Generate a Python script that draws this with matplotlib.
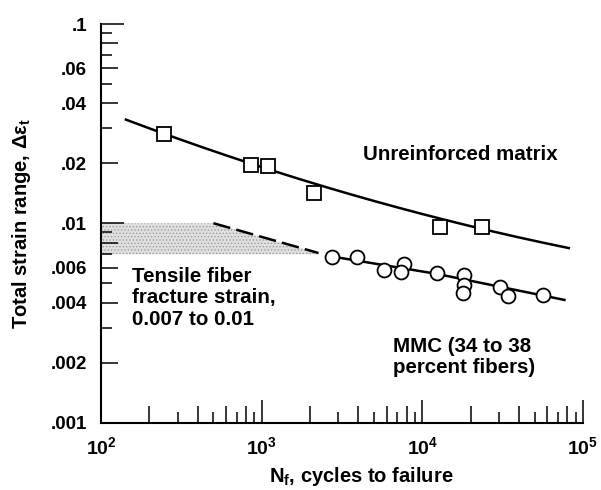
import numpy as np
import matplotlib.pyplot as plt
from matplotlib.ticker import LogLocator, FuncFormatter, NullFormatter, NullLocator

plt.rcParams['font.family'] = ['Liberation Sans', 'DejaVu Sans']
plt.rcParams['font.weight'] = 'bold'
plt.rcParams['axes.labelweight'] = 'bold'
plt.rcParams['mathtext.fontset'] = 'custom'
plt.rcParams['mathtext.rm'] = 'Liberation Sans:bold'
plt.rcParams['mathtext.it'] = 'Liberation Sans:italic:bold'
plt.rcParams['mathtext.bf'] = 'Liberation Sans:bold'
plt.rcParams['mathtext.default'] = 'regular'
plt.rcParams['hatch.linewidth'] = 0.6

# unreinforced matrix test points (squares)
matrix_N = [248, 861, 1101, 2133, 12830, 23550]
matrix_eps = [0.0281, 0.0196, 0.0193, 0.01416, 0.00964, 0.00964]
# points
matrix_curve_N = [143, 248, 478, 979, 1738, 3010, 12940, 23550, 81570]
matrix_curve_eps = [0.0337, 0.0280, 0.0229, 0.0196, 0.0162, 0.01455, 0.0106, 0.00972, 0.00736]

# MMC test points (circles)
mmc_N = [2738, 3918, 5741, 7647, 7400, 12310, 18090, 18090, 17830, 30310, 34010, 56170]
mmc_eps = [0.00682, 0.00677, 0.00585, 0.00625, 0.00573, 0.00565, 0.00552, 0.00492,
           0.00447, 0.00482, 0.00430, 0.00438]
# MMC curve: solid part and dashed extension
mmc_curve_N = [2738, 12310, 76680]
mmc_curve_eps = [0.00682, 0.00558, 0.00413]
mmc_dash_N = [501, 2260]
mmc_dash_eps = [0.01002, 0.00710]

# tensile fiber fracture strain band
fiber_low = 0.007
fiber_high = 0.01

fig = plt.figure(figsize=(6.01, 4.90), dpi=100)
ax = fig.add_axes([0.168, 0.1373, 0.802, 0.8137])
xlim = (1e2, 1e5)
ylim = (1e-3, 1e-1)

# shaded band, bounded on the right by the dashed line
xs = np.geomspace(xlim[0], mmc_dash_N[-1], 300)
dash_fit = np.polyfit(np.log10(mmc_dash_N), np.log10(mmc_dash_eps), 1)
upper = np.minimum(fiber_high, 10 ** np.polyval(dash_fit, np.log10(xs)))
ax.fill_between(xs, fiber_low, upper, facecolor='#e0e0e0', edgecolor='#9a9a9a',
                hatch='.....', linewidth=0, zorder=1)

# smooth matrix curve through the read points
mfit = np.polyfit(np.log10(matrix_curve_N), np.log10(matrix_curve_eps), 2)
mx = np.geomspace(matrix_curve_N[0], matrix_curve_N[-1], 300)
ax.plot(mx, 10 ** np.polyval(mfit, np.log10(mx)), color='k', lw=1.8, zorder=2)

ax.plot(mmc_curve_N, mmc_curve_eps, color='k', lw=1.8, zorder=2)
ax.plot(mmc_dash_N, mmc_dash_eps, color='k', lw=1.8, dashes=(7, 2.5), zorder=2)

ax.plot(matrix_N, matrix_eps, 's', ms=10.5, mfc='white', mec='k', mew=1.3, zorder=3)
ax.plot(mmc_N, mmc_eps, 'o', ms=10, mfc='white', mec='k', mew=1.3, zorder=3)

ax.set_xscale('log')
ax.set_yscale('log')
ax.set_xlim(xlim)
ax.set_ylim(ylim)

for s in ['top', 'right']:
    ax.spines[s].set_visible(False)
for s in ['left', 'bottom']:
    ax.spines[s].set_linewidth(1.5)

def short_label(v, pos):
    return ('%g' % v).lstrip('0')

def minor_label(v, pos):
    m = int(round(v / 10 ** np.floor(np.log10(v) + 1e-9)))
    if m in (2, 4, 6):
        return short_label(v, pos)
    return ''

ax.xaxis.set_major_locator(LogLocator(base=10, numticks=10))
ax.xaxis.set_minor_locator(LogLocator(base=10, subs=(2, 4, 6, 8), numticks=10))
ax.xaxis.set_major_formatter(FuncFormatter(lambda v, p: r'$10^{%d}$' % round(np.log10(v))))
ax.xaxis.set_minor_formatter(NullFormatter())
ax.yaxis.set_major_locator(LogLocator(base=10, numticks=10))
ax.yaxis.set_minor_locator(LogLocator(base=10, subs=(2, 4, 6, 8), numticks=10))
ax.yaxis.set_major_formatter(FuncFormatter(short_label))
ax.yaxis.set_minor_formatter(FuncFormatter(minor_label))
ax.tick_params(axis='both', which='major', direction='in', length=16.5, width=1.1)
ax.tick_params(axis='both', which='minor', direction='in', length=12.5, width=1.1)
ax.tick_params(axis='x', which='both', labelsize=14, pad=10)
ax.tick_params(axis='y', which='both', labelsize=13.5, pad=10)

# second axes just for the shorter odd minor ticks
ax2 = fig.add_axes(ax.get_position(), facecolor='none')
ax2.set_xscale('log')
ax2.set_yscale('log')
ax2.set_xlim(xlim)
ax2.set_ylim(ylim)
for s in ax2.spines.values():
    s.set_visible(False)
for a in [ax2.xaxis, ax2.yaxis]:
    a.set_major_locator(NullLocator())
    a.set_minor_locator(LogLocator(base=10, subs=(3, 5, 7, 9), numticks=10))
    a.set_minor_formatter(NullFormatter())
ax2.tick_params(which='minor', direction='in', length=8, width=1.1)

ax.set_xlabel(r'N$_f$, cycles to failure', fontsize=14.5, fontweight='bold', va='center')
ax.xaxis.set_label_coords(0.54, -0.134)
ax.set_ylabel(r'Total strain range, Δ$\varepsilon_t$', fontsize=14.5, fontweight='bold', va='center')
ax.yaxis.set_label_coords(-0.165, 0.5)

ax.text(0.5436, 0.6589, 'Unreinforced matrix', transform=ax.transAxes,
        fontsize=14.8, va='baseline', ha='left')
ax.text(0.0637, 0.3905, 'Tensile fiber\nfracture strain,\n0.007 to 0.01', transform=ax.transAxes,
        fontsize=14.8, va='top', ha='left', linespacing=1.15)
ax.text(0.6065, 0.2162, 'MMC (34 to 38\npercent fibers)', transform=ax.transAxes,
        fontsize=14.8, va='top', ha='left', linespacing=1.15)

fig.savefig('out.png', dpi=100)
